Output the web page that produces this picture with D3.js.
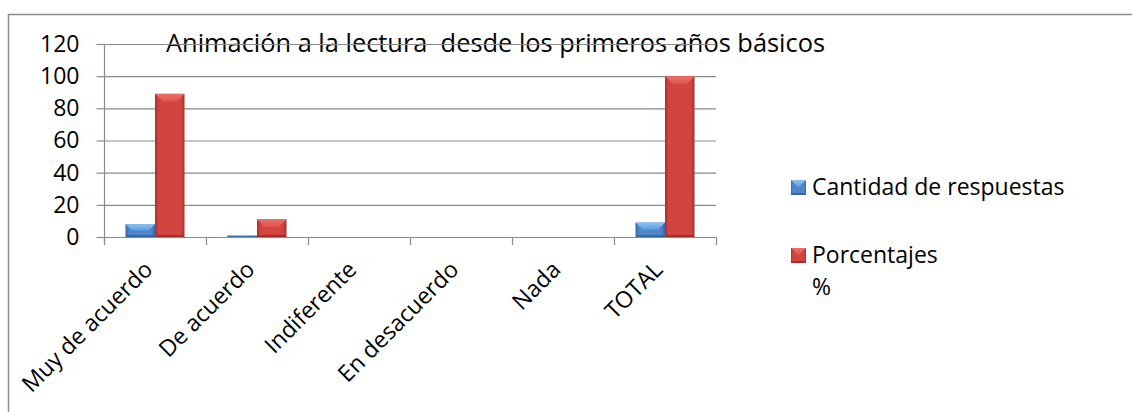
<!DOCTYPE html>
<html>
<head>
<meta charset="utf-8">
<script src="https://cdn.jsdelivr.net/npm/d3@7"></script>
<style>
  html, body { margin: 0; padding: 0; background: #fff; }
  svg { display: block; font-family: "Open Sans", "Noto Sans", sans-serif; }
</style>
</head>
<body>
<svg id="chart" width="1132" height="412"></svg>
<script>
// Survey answers: count of responses and percentage per option
const categories = ["Muy de acuerdo", "De acuerdo", "Indiferente", "En desacuerdo", "Nada", "TOTAL"];
const cantidad = [8, 1, 0, 0, 0, 9];
const porcentajes = [89, 11, 0, 0, 0, 100];
const yTicks = [0, 20, 40, 60, 80, 100, 120];
const seriesNames = ["Cantidad de respuestas", "Porcentajes %"];
const title = "Animación a la lectura\u00a0 desde los primeros años básicos";

const svg = d3.select("#chart");
const plot = { left: 104, right: 716, top: 44, bottom: 237 };

const x = d3.scaleBand().domain(categories).range([plot.left, plot.right]).padding(0);
const groupW = 59;
const x1 = d3.scaleBand().domain(seriesNames).range([0, groupW]).padding(0);
const y = d3.scaleLinear().domain([0, 120]).range([plot.bottom, plot.top]);

const palette = {
  "Cantidad de respuestas": { edge: "#3567a8", mid: "#4f86c8", top1: "#8cc4f4", top2: "#5b9be0", bottom: "#2f5f9c" },
  "Porcentajes %": { edge: "#a52f2d", mid: "#d2443f", top1: "#ef6f69", top2: "#dc524d", bottom: "#962a28" }
};

const defs = svg.append("defs");
Object.entries(palette).forEach(([name, c], i) => {
  const g = defs.append("linearGradient").attr("id", "body" + i).attr("x1", 0).attr("x2", 1).attr("y1", 0).attr("y2", 0);
  g.append("stop").attr("offset", "0%").attr("stop-color", c.edge);
  g.append("stop").attr("offset", "12%").attr("stop-color", c.mid);
  g.append("stop").attr("offset", "50%").attr("stop-color", c.mid);
  g.append("stop").attr("offset", "88%").attr("stop-color", c.mid);
  g.append("stop").attr("offset", "100%").attr("stop-color", c.edge);
  const t = defs.append("linearGradient").attr("id", "top" + i).attr("x1", 0).attr("x2", 0).attr("y1", 0).attr("y2", 1);
  t.append("stop").attr("offset", "0%").attr("stop-color", c.top1);
  t.append("stop").attr("offset", "100%").attr("stop-color", c.top2);
});

// Outer chart frame
svg.append("rect")
  .attr("x", 8.5).attr("y", 14.5).attr("width", 1140).attr("height", 420)
  .attr("fill", "none").attr("stroke", "#8c8c8c").attr("stroke-width", 1.5);

// Title
svg.append("text")
  .attr("x", 166).attr("y", 52)
  .attr("font-size", 25.4).attr("fill", "#000")
  .text(title);

// Gridlines
svg.append("g").selectAll("line").data(yTicks.filter(d => d > 0)).join("line")
  .attr("x1", plot.left).attr("x2", plot.right)
  .attr("y1", d => y(d) + 0.5).attr("y2", d => y(d) + 0.5)
  .attr("stroke", "#8a8a8a").attr("stroke-width", 1.2);

// Y axis
const yAxis = svg.append("g").attr("transform", `translate(${plot.left + 0.5},0)`)
  .call(d3.axisLeft(y).tickValues(yTicks).tickSize(8).tickPadding(17));
yAxis.attr("font-family", null).attr("font-size", null);
yAxis.select(".domain").remove();
yAxis.selectAll(".tick line").attr("stroke", "#8a8a8a").attr("stroke-width", 1.2);
yAxis.selectAll(".tick text").attr("font-size", 23).attr("fill", "#000");
svg.append("line")
  .attr("x1", plot.left + 0.5).attr("x2", plot.left + 0.5)
  .attr("y1", plot.top).attr("y2", plot.bottom + 8)
  .attr("stroke", "#8a8a8a").attr("stroke-width", 1.2);

// X axis line and category boundary ticks
svg.append("line")
  .attr("x1", plot.left).attr("x2", plot.right)
  .attr("y1", plot.bottom + 0.5).attr("y2", plot.bottom + 0.5)
  .attr("stroke", "#8a8a8a").attr("stroke-width", 1.2);
const edges = categories.map(c => x(c)).concat([x(categories[categories.length - 1]) + x.bandwidth()]);
svg.append("g").selectAll("line").data(edges).join("line")
  .attr("x1", d => d + 0.5).attr("x2", d => d + 0.5)
  .attr("y1", plot.bottom).attr("y2", plot.bottom + 8)
  .attr("stroke", "#8a8a8a").attr("stroke-width", 1.2);

// Category labels, rotated
svg.append("g").selectAll("text").data(categories).join("text")
  .attr("transform", d => `translate(${x(d) + x.bandwidth() / 2 - 1},${plot.bottom + 34}) rotate(-45)`)
  .attr("text-anchor", "end")
  .attr("font-size", 23).attr("fill", "#000")
  .text(d => d);

// Bevelled bar
function bevelBar(g, bx, by, w, h, idx) {
  if (h <= 0) return;
  const c = Object.values(palette)[idx];
  g.append("rect").attr("x", bx).attr("y", by).attr("width", w).attr("height", h)
    .attr("fill", `url(#body${idx})`);
  const b = Math.min(8, h / 2, w / 2);
  g.append("polygon")
    .attr("points", [[bx, by], [bx + w, by], [bx + w - b, by + b], [bx + b, by + b]].map(p => p.join(",")).join(" "))
    .attr("fill", `url(#top${idx})`);
  const bb = Math.min(2, h / 3);
  g.append("polygon")
    .attr("points", [[bx, by + h], [bx + w, by + h], [bx + w - bb, by + h - bb], [bx + bb, by + h - bb]].map(p => p.join(",")).join(" "))
    .attr("fill", c.bottom).attr("opacity", 0.8);
}

const barsG = svg.append("g");
const seriesData = [cantidad, porcentajes];
categories.forEach((cat, ci) => {
  const gx = x(cat) + (x.bandwidth() - groupW) / 2;
  seriesNames.forEach((s, si) => {
    const v = seriesData[si][ci];
    const top = y(v);
    bevelBar(barsG, gx + x1(s), top, x1.bandwidth(), y(0) - top, si);
  });
});

// Legend
const legend = svg.append("g");
const legendRows = [
  { y: 180, lines: ["Cantidad de respuestas"] },
  { y: 248, lines: ["Porcentajes", "%"] }
];
legendRows.forEach((row, i) => {
  bevelBar(legend, 791, row.y, 15, 15, i);
  const t = legend.append("text").attr("x", 812).attr("y", row.y + 15)
    .attr("font-size", 23).attr("fill", "#000");
  row.lines.forEach((ln, k) => {
    t.append("tspan").attr("x", 812).attr("dy", k === 0 ? 0 : 32).text(ln);
  });
});
</script>
</body>
</html>
